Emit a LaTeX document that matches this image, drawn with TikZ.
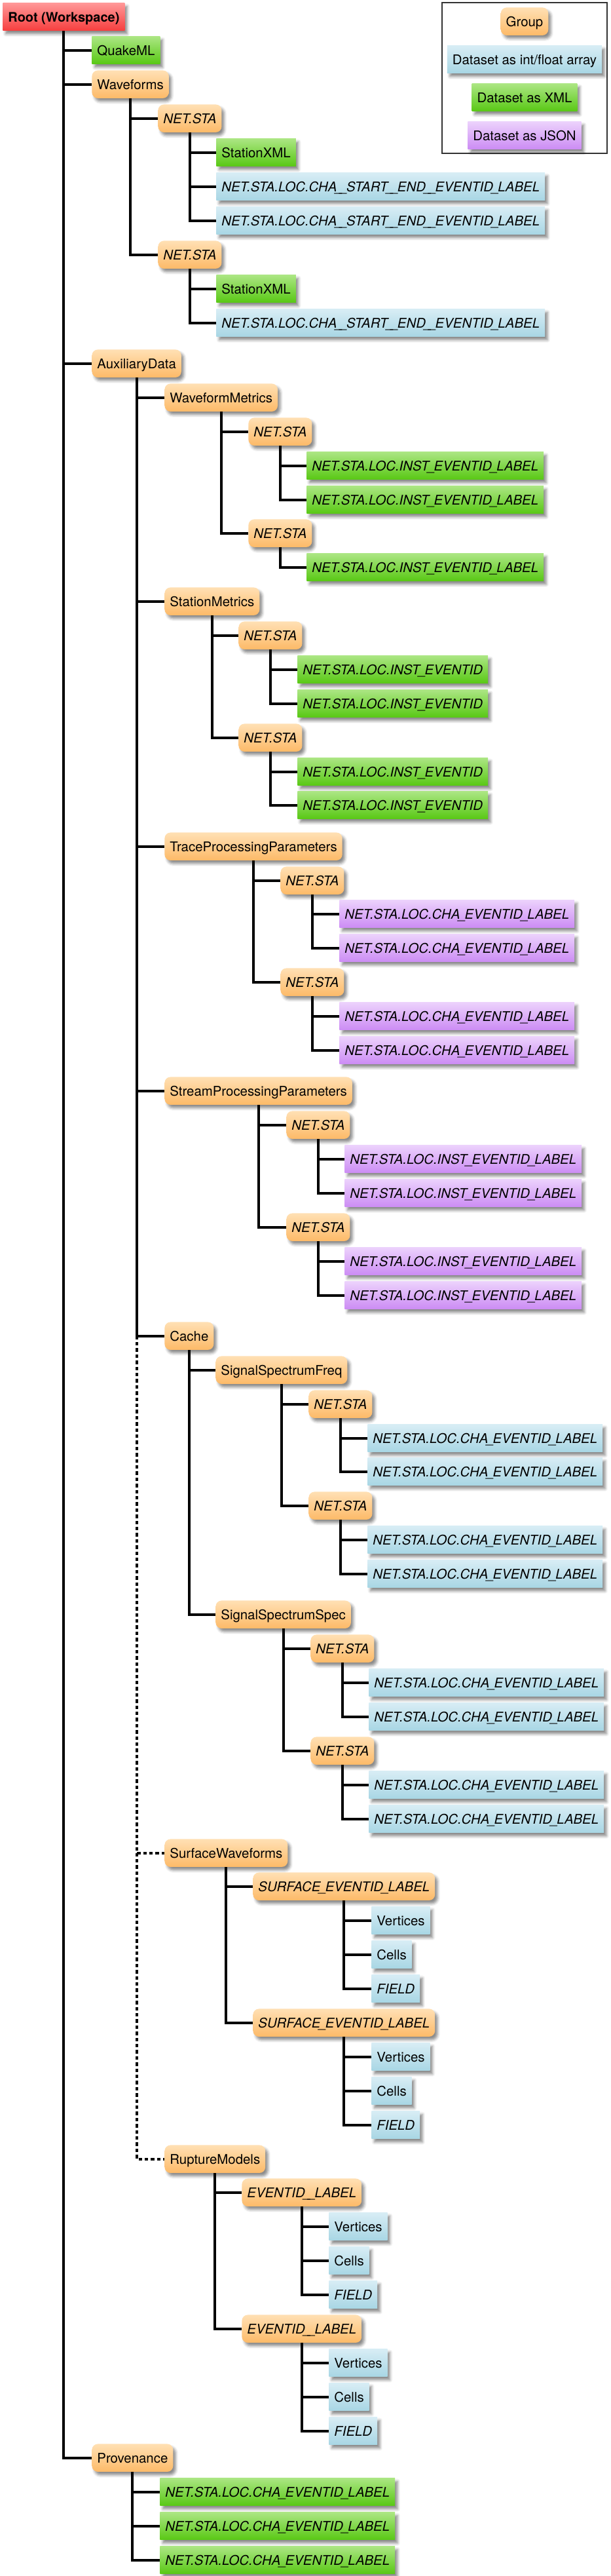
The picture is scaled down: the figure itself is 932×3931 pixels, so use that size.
\documentclass[tikz,border=0pt]{standalone}
\usepackage{fontspec}
\setmainfont{TeX Gyre Heros}
\usetikzlibrary{shadows.blur}

\definecolor{grpTop}{RGB}{255,224,180}
\definecolor{grpBot}{RGB}{253,186,104}
\definecolor{xmlTop}{RGB}{172,230,132}
\definecolor{xmlBot}{RGB}{88,200,20}
\definecolor{arrTop}{RGB}{216,237,245}
\definecolor{arrBot}{RGB}{168,214,228}
\definecolor{jsonTop}{RGB}{236,210,252}
\definecolor{jsonBot}{RGB}{204,140,244}
\definecolor{rootTop}{RGB}{255,152,152}
\definecolor{rootBot}{RGB}{246,62,62}

% narrow underscore, as in the original labels
\newcommand{\us}{\kern-1pt\_\kern-1pt}
\newcommand{\netsta}{\textit{NET.STA}}
\newcommand{\startend}{\textit{NET.STA.LOC.CHA\us\us START\us\us END\us\us EVENTID\us LABEL}}
\newcommand{\instlab}{\textit{NET.STA.LOC.INST\us EVENTID\us LABEL}}
\newcommand{\instev}{\textit{NET.STA.LOC.INST\us EVENTID}}
\newcommand{\chalab}{\textit{NET.STA.LOC.CHA\us EVENTID\us LABEL}}

\tikzset{
  box/.style={anchor=north west, inner xsep=4pt, inner ysep=0pt,
    minimum height=21.25pt, text height=7.4pt, text depth=0pt,
    blur shadow={shadow xshift=2pt, shadow yshift=-2.5pt,
      shadow blur radius=2pt, shadow opacity=45}},
  grp/.style={box, rounded corners=4.5pt, top color=grpTop, bottom color=grpBot},
  arr/.style={box, top color=arrTop, bottom color=arrBot},
  xml/.style={box, top color=xmlTop, bottom color=xmlBot},
  json/.style={box, top color=jsonTop, bottom color=jsonBot},
  rootbox/.style={box, top color=rootTop, bottom color=rootBot, font=\bfseries},
  conn/.style={line width=2pt},
  dconn/.style={conn, dash pattern=on 2.7pt off 2pt},
}

\begin{document}
\begin{tikzpicture}[x=0.5pt,y=-0.5pt,font=\fontsize{10.2}{12}\selectfont]
  \useasboundingbox (0,0) rectangle (932,3931);

  % legend
  \draw[line width=0.6pt, black!80] (675,4) rectangle (927,234);
  \node[grp, anchor=north] (lgrp) at (801,11) {Group};
  \node[arr, anchor=north] (larr) at (801,69) {Dataset as int/float array};
  \node[xml, anchor=north] (lxml) at (801,127) {Dataset as XML};
  \node[json, anchor=north] (ljson) at (801,185) {Dataset as JSON};

  % root and first level
  \node[rootbox] (root) at (4,4) {Root (Workspace)};
  \node[xml] (quake) at (140,55) {QuakeML};
  \node[grp] (wave) at (140,107) {Waveforms};
  \node[grp] (aux) at (140,533) {AuxiliaryData};
  \node[grp] (prov) at (140,3729) {Provenance};

  % waveforms
  \node[grp] (wna) at (241,159) {\netsta};
  \node[xml] (wnaxml) at (330,211) {StationXML};
  \node[arr] (wna1) at (330,263) {\startend};
  \node[arr] (wna2) at (330,315) {\startend};
  \node[grp] (wnb) at (241,367) {\netsta};
  \node[xml] (wnbxml) at (330,419) {StationXML};
  \node[arr] (wnb1) at (330,471) {\startend};

  % auxiliary data groups
  \node[grp] (wm) at (251,585) {WaveformMetrics};
  \node[grp] (sm) at (251,896) {StationMetrics};
  \node[grp] (tpp) at (251,1270) {TraceProcessingParameters};
  \node[grp] (spp) at (251,1643) {StreamProcessingParameters};
  \node[grp] (cache) at (251,2017) {Cache};
  \node[grp] (surf) at (251,2806) {SurfaceWaveforms};
  \node[grp] (rupt) at (251,3273) {RuptureModels};

  \node[grp] (wma) at (379,637) {\netsta};
  \node[xml] (wma1) at (468,689) {\instlab};
  \node[xml] (wma2) at (468,741) {\instlab};
  \node[grp] (wmb) at (379,792) {\netsta};
  \node[xml] (wmb1) at (468,844) {\instlab};

  \node[grp] (sma) at (364,948) {\netsta};
  \node[xml] (sma1) at (454,1000) {\instev};
  \node[xml] (sma2) at (454,1052) {\instev};
  \node[grp] (smb) at (364,1104) {\netsta};
  \node[xml] (smb1) at (454,1156) {\instev};
  \node[xml] (smb2) at (454,1207) {\instev};

  \node[grp] (tpa) at (428,1322) {\netsta};
  \node[json] (tpa1) at (518,1373) {\chalab};
  \node[json] (tpa2) at (518,1425) {\chalab};
  \node[grp] (tpb) at (428,1477) {\netsta};
  \node[json] (tpb1) at (518,1529) {\chalab};
  \node[json] (tpb2) at (518,1581) {\chalab};

  \node[grp] (spa) at (437,1695) {\netsta};
  \node[json] (spa1) at (526,1747) {\instlab};
  \node[json] (spa2) at (526,1799) {\instlab};
  \node[grp] (spb) at (437,1851) {\netsta};
  \node[json] (spb1) at (526,1903) {\instlab};
  \node[json] (spb2) at (526,1955) {\instlab};

  % cache
  \node[grp] (ssf) at (329,2069) {SignalSpectrumFreq};
  \node[grp] (sfa) at (471,2121) {\netsta};
  \node[arr] (sfa1) at (561,2173) {\chalab};
  \node[arr] (sfa2) at (561,2224) {\chalab};
  \node[grp] (sfb) at (471,2276) {\netsta};
  \node[arr] (sfb1) at (561,2328) {\chalab};
  \node[arr] (sfb2) at (561,2380) {\chalab};

  \node[grp] (sss) at (329,2442) {SignalSpectrumSpec};
  \node[grp] (ssa) at (474,2494) {\netsta};
  \node[arr] (ssa1) at (563,2546) {\chalab};
  \node[arr] (ssa2) at (563,2598) {\chalab};
  \node[grp] (ssb) at (474,2650) {\netsta};
  \node[arr] (ssb1) at (563,2702) {\chalab};
  \node[arr] (ssb2) at (563,2754) {\chalab};

  % surface waveforms and rupture models
  \node[grp] (sua) at (386,2857) {\textit{SURFACE\us EVENTID\us LABEL}};
  \node[arr] (suav) at (567,2909) {Vertices};
  \node[arr] (suac) at (567,2961) {Cells};
  \node[arr] (suaf) at (567,3013) {\textit{FIELD}};
  \node[grp] (sub) at (386,3065) {\textit{SURFACE\us EVENTID\us LABEL}};
  \node[arr] (subv) at (567,3117) {Vertices};
  \node[arr] (subc) at (567,3169) {Cells};
  \node[arr] (subf) at (567,3221) {\textit{FIELD}};

  \node[grp] (rua) at (369,3324) {\textit{EVENTID\us\us LABEL}};
  \node[arr] (ruav) at (502,3376) {Vertices};
  \node[arr] (ruac) at (502,3428) {Cells};
  \node[arr] (ruaf) at (502,3480) {\textit{FIELD}};
  \node[grp] (rub) at (369,3532) {\textit{EVENTID\us\us LABEL}};
  \node[arr] (rubv) at (502,3584) {Vertices};
  \node[arr] (rubc) at (502,3636) {Cells};
  \node[arr] (rubf) at (502,3688) {\textit{FIELD}};

  % provenance
  \node[xml] (pr1) at (244,3781) {\chalab};
  \node[xml] (pr2) at (244,3833) {\chalab};
  \node[xml] (pr3) at (244,3885) {\chalab};

  % connectors
  \foreach \c in {quake,wave,aux,prov} \draw[conn] (root.south) |- (\c.west);
  \foreach \c in {wna,wnb} \draw[conn] (wave.south) |- (\c.west);
  \foreach \c in {wnaxml,wna1,wna2} \draw[conn] (wna.south) |- (\c.west);
  \foreach \c in {wnbxml,wnb1} \draw[conn] (wnb.south) |- (\c.west);
  \foreach \c in {wm,sm,tpp,spp,cache} \draw[conn] (aux.south) |- (\c.west);
  \draw[dconn] (aux.south |- cache.west) |- (surf.west);
  \draw[dconn] (aux.south |- surf.west) |- (rupt.west);
  \foreach \p/\c in {wm/wma,wm/wmb,wma/wma1,wma/wma2,wmb/wmb1,
                     sm/sma,sm/smb,sma/sma1,sma/sma2,smb/smb1,smb/smb2,
                     tpp/tpa,tpp/tpb,tpa/tpa1,tpa/tpa2,tpb/tpb1,tpb/tpb2,
                     spp/spa,spp/spb,spa/spa1,spa/spa2,spb/spb1,spb/spb2,
                     cache/ssf,cache/sss,
                     ssf/sfa,ssf/sfb,sfa/sfa1,sfa/sfa2,sfb/sfb1,sfb/sfb2,
                     sss/ssa,sss/ssb,ssa/ssa1,ssa/ssa2,ssb/ssb1,ssb/ssb2,
                     surf/sua,surf/sub,sua/suav,sua/suac,sua/suaf,sub/subv,sub/subc,sub/subf,
                     rupt/rua,rupt/rub,rua/ruav,rua/ruac,rua/ruaf,rub/rubv,rub/rubc,rub/rubf,
                     prov/pr1,prov/pr2,prov/pr3}
    \draw[conn] (\p.south) |- (\c.west);
\end{tikzpicture}
\end{document}
